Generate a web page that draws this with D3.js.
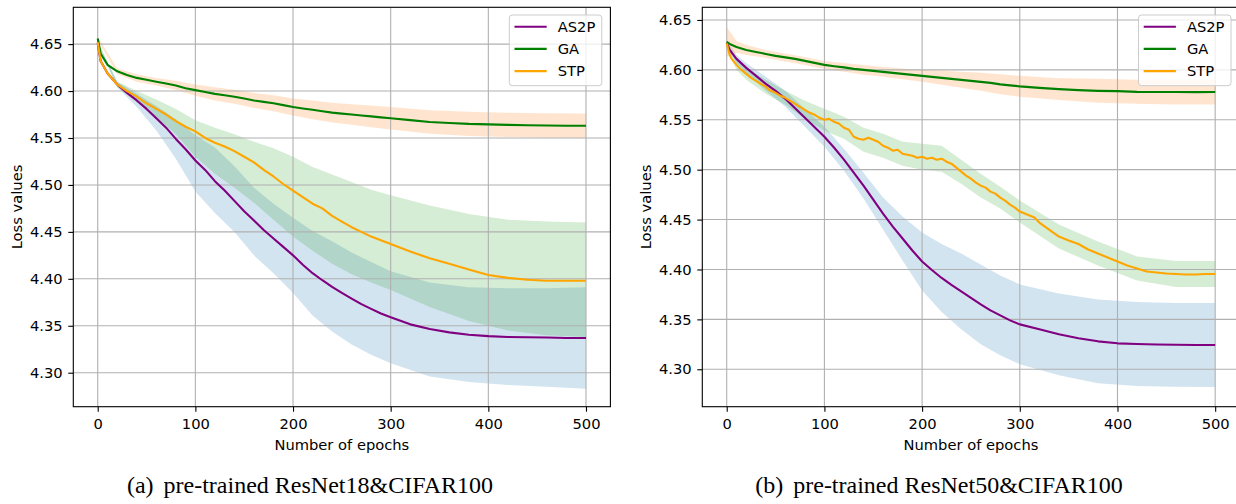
<!DOCTYPE html>
<html>
<head>
<meta charset="utf-8">
<script src="https://cdn.jsdelivr.net/npm/d3@7"></script>
<style>
  body { margin: 0; background: #fff; }
  svg { display: block; }
  text { font-family: "DejaVu Sans", sans-serif; }
  .caption { font-family: "Liberation Serif", "Times New Roman", serif; }
</style>
</head>
<body>
<svg id="fig" width="1236" height="504"></svg>
<script>
// ---------- shared axis ticks ----------
const xTicks = [0, 100, 200, 300, 400, 500];
const yTicks = [4.30, 4.35, 4.40, 4.45, 4.50, 4.55, 4.60, 4.65];
const seriesNames = ["AS2P", "GA", "STP"];

// ---------- (a) pre-trained ResNet18 & CIFAR100 ----------
const epochsA = [0, 3, 10, 20, 30, 40, 50, 60, 70, 80, 90, 100, 110, 120, 130, 140, 150,
  160, 170, 180, 190, 200, 210, 220, 230, 240, 250, 260, 270, 280, 290, 300,
  320, 340, 360, 380, 400, 420, 440, 460, 480, 500];
const as2pA = [4.651, 4.632, 4.619, 4.607, 4.598, 4.590, 4.581, 4.571, 4.561, 4.549, 4.538,
  4.526, 4.516, 4.504, 4.494, 4.483, 4.472, 4.462, 4.452, 4.443, 4.434, 4.425, 4.415,
  4.406, 4.3985, 4.3915, 4.385, 4.379, 4.373, 4.368, 4.363, 4.359, 4.3515, 4.3465, 4.343,
  4.3405, 4.339, 4.338, 4.3378, 4.3375, 4.337, 4.337];
const gaA = [4.656, 4.640, 4.628, 4.621, 4.617, 4.614, 4.612, 4.610, 4.608, 4.606, 4.603,
  4.601, 4.599, 4.597, 4.5955, 4.594, 4.592, 4.590, 4.5885, 4.587, 4.585, 4.583, 4.5815,
  4.580, 4.5785, 4.577, 4.576, 4.575, 4.574, 4.573, 4.572, 4.571, 4.569, 4.567, 4.566,
  4.565, 4.5645, 4.564, 4.5635, 4.5633, 4.563, 4.563];
const stpA = [4.652, 4.632, 4.619, 4.607, 4.600, 4.594, 4.587, 4.581, 4.575, 4.568, 4.562,
  4.557, 4.550, 4.545, 4.541, 4.536, 4.530, 4.524, 4.516, 4.509, 4.501, 4.494, 4.487,
  4.480, 4.475, 4.467, 4.461, 4.455, 4.450, 4.445, 4.441, 4.437, 4.429, 4.422, 4.416,
  4.410, 4.404, 4.401, 4.399, 4.398, 4.398, 4.398];
// lower / upper edges of the shaded run-to-run spread
const bandEpochsA = [0, 20, 40, 60, 80, 100, 120, 140, 160, 180, 200, 220, 240, 260, 280,
  300, 340, 380, 420, 460, 500];
const as2pLowA = [4.650, 4.604, 4.583, 4.558, 4.528, 4.493, 4.470, 4.450, 4.425, 4.406,
  4.385, 4.361, 4.344, 4.330, 4.319, 4.310, 4.296, 4.290, 4.287, 4.285, 4.283];
const as2pHighA = [4.652, 4.610, 4.597, 4.584, 4.570, 4.553, 4.540, 4.520, 4.497, 4.480,
  4.465, 4.451, 4.440, 4.428, 4.418, 4.408, 4.396, 4.391, 4.390, 4.390, 4.391];
const gaLowA = [4.654, 4.618, 4.610, 4.606, 4.601, 4.595, 4.590, 4.5865, 4.582, 4.5785,
  4.574, 4.570, 4.5665, 4.564, 4.5615, 4.559, 4.5545, 4.552, 4.551, 4.5503, 4.550];
const gaHighA = [4.658, 4.624, 4.618, 4.614, 4.611, 4.607, 4.604, 4.6015, 4.598, 4.5955,
  4.592, 4.590, 4.5875, 4.586, 4.5845, 4.583, 4.5795, 4.578, 4.577, 4.5763, 4.576];
const stpLowA = [4.651, 4.604, 4.588, 4.572, 4.554, 4.530, 4.512, 4.497, 4.481, 4.463,
  4.445, 4.430, 4.416, 4.405, 4.396, 4.388, 4.370, 4.355, 4.345, 4.340, 4.338];
const stpHighA = [4.653, 4.610, 4.600, 4.591, 4.581, 4.569, 4.561, 4.554, 4.546, 4.539,
  4.530, 4.519, 4.511, 4.503, 4.495, 4.489, 4.478, 4.469, 4.463, 4.461, 4.460];

// ---------- (b) pre-trained ResNet50 & CIFAR100 ----------
const epochsB = epochsA;
const as2pB = [4.627, 4.620, 4.611, 4.602, 4.594, 4.586, 4.579, 4.571, 4.5615, 4.552, 4.5425,
  4.533, 4.522, 4.510, 4.497, 4.484, 4.470, 4.456, 4.443, 4.431, 4.419, 4.408, 4.3995,
  4.3915, 4.3845, 4.378, 4.3715, 4.365, 4.359, 4.354, 4.349, 4.345, 4.340, 4.335, 4.331,
  4.328, 4.326, 4.3253, 4.3248, 4.3245, 4.3243, 4.3243];
const gaB = [4.628, 4.626, 4.623, 4.620, 4.618, 4.616, 4.614, 4.6125, 4.611, 4.609, 4.607,
  4.605, 4.6037, 4.6025, 4.601, 4.600, 4.599, 4.598, 4.597, 4.596, 4.595, 4.594, 4.593,
  4.592, 4.591, 4.590, 4.589, 4.588, 4.587, 4.5855, 4.5845, 4.5835, 4.582, 4.5807, 4.5797,
  4.579, 4.5787, 4.578, 4.5778, 4.5778, 4.5777, 4.5778];
const stpEpochsB = [0, 3, 5, 10, 15, 20, 25, 30, 35, 40, 45, 50, 55, 60, 65, 70, 75, 80, 85,
  90, 95, 100, 105, 110, 115, 120, 125, 130, 135, 140, 145, 150, 155, 160, 165, 170, 175,
  180, 185, 190, 195, 200, 205, 210, 215, 220, 225, 230, 235, 240, 245, 250, 255, 260, 265,
  270, 275, 280, 285, 290, 295, 300, 305, 310, 315, 320, 330, 340, 350, 360, 370, 380, 390,
  400, 410, 420, 430, 440, 450, 460, 470, 480, 490, 500];
const stpB = [4.6266, 4.615, 4.611, 4.605, 4.600, 4.596, 4.592, 4.589, 4.586, 4.583, 4.579,
  4.577, 4.574, 4.572, 4.569, 4.566, 4.563, 4.560, 4.557, 4.555, 4.552, 4.550, 4.551,
  4.548, 4.546, 4.542, 4.540, 4.533, 4.531, 4.530, 4.532, 4.530, 4.528, 4.524, 4.522,
  4.519, 4.520, 4.516, 4.515, 4.514, 4.512, 4.513, 4.511, 4.512, 4.510, 4.511, 4.508,
  4.506, 4.502, 4.498, 4.494, 4.491, 4.487, 4.484, 4.482, 4.478, 4.476, 4.472, 4.469,
  4.465, 4.462, 4.458, 4.456, 4.454, 4.452, 4.447, 4.440, 4.433, 4.429, 4.4255, 4.420,
  4.416, 4.412, 4.408, 4.404, 4.401, 4.398, 4.397, 4.396, 4.3955, 4.395, 4.395, 4.3955,
  4.3955];
const bandEpochsB = [0, 10, 20, 40, 60, 80, 100, 120, 140, 160, 180, 200, 220, 240, 260, 280,
  300, 340, 380, 420, 460, 500];
const as2pLowB = [4.624, 4.607, 4.597, 4.579, 4.563, 4.543, 4.523, 4.499, 4.471, 4.440,
  4.409, 4.379, 4.3575, 4.340, 4.325, 4.314, 4.305, 4.294, 4.286, 4.2833, 4.2825, 4.2823];
const as2pHighB = [4.630, 4.615, 4.607, 4.593, 4.579, 4.561, 4.543, 4.521, 4.497, 4.472,
  4.453, 4.437, 4.4255, 4.416, 4.405, 4.394, 4.385, 4.376, 4.370, 4.3673, 4.3665, 4.3663];
const gaLowB = [4.613, 4.617, 4.615, 4.612, 4.6085, 4.605, 4.601, 4.598, 4.595, 4.593,
  4.5905, 4.588, 4.585, 4.582, 4.579, 4.5755, 4.573, 4.5697, 4.567, 4.566, 4.5653, 4.5653];
const gaHighB = [4.643, 4.629, 4.625, 4.620, 4.6165, 4.613, 4.609, 4.607, 4.605, 4.603,
  4.6015, 4.600, 4.599, 4.598, 4.597, 4.5955, 4.594, 4.5917, 4.591, 4.590, 4.5903, 4.5903];
const stpLowB = [4.6236, 4.600, 4.590, 4.576, 4.565, 4.551, 4.539, 4.531, 4.518, 4.512,
  4.504, 4.500, 4.498, 4.486, 4.472, 4.461, 4.447, 4.421, 4.404, 4.389, 4.3825, 4.3825];
const stpHighB = [4.6296, 4.610, 4.602, 4.590, 4.579, 4.569, 4.561, 4.553, 4.542, 4.536,
  4.528, 4.526, 4.524, 4.510, 4.496, 4.483, 4.469, 4.445, 4.428, 4.413, 4.4085, 4.4085];

// ---------- styling ----------
const lineColors = { AS2P: "purple", GA: "green", STP: "orange" };
const bandColors = { AS2P: "#1f77b4", GA: "#ff7f0e", STP: "#2ca02c" };

const svg = d3.select("#fig");
svg.append("rect").attr("width", 1236).attr("height", 504).attr("fill", "#fff");
const defs = svg.append("defs");

const TOP = 7.3, BOTTOM = 406.7, FONT = 14.7;

function drawPanel(p) {
  const x = d3.scaleLinear().domain([-25, 525]).range([p.left, p.right]);
  const y = d3.scaleLinear().domain(p.yDomain).range([BOTTOM, TOP]);
  const g = svg.append("g");

  defs.append("clipPath").attr("id", "clip-" + p.id)
    .append("rect").attr("x", p.left).attr("y", TOP)
    .attr("width", p.right - p.left).attr("height", BOTTOM - TOP);
  const plot = g.append("g").attr("clip-path", `url(#clip-${p.id})`);

  // shaded spread bands
  p.series.forEach(s => {
    const pts = p.bandEpochs.map((e, i) => [e, s.low[i], s.high[i]]);
    plot.append("path").datum(pts)
      .attr("d", d3.area().x(d => x(d[0])).y0(d => y(d[1])).y1(d => y(d[2])))
      .attr("fill", bandColors[s.name]).attr("fill-opacity", 0.2);
  });

  // grid
  plot.selectAll(".gx").data(xTicks).join("line")
    .attr("x1", d => x(d)).attr("x2", d => x(d)).attr("y1", TOP).attr("y2", BOTTOM)
    .attr("stroke", "#b0b0b0").attr("stroke-width", 1.1);
  plot.selectAll(".gy").data(yTicks).join("line")
    .attr("y1", d => y(d)).attr("y2", d => y(d)).attr("x1", p.left).attr("x2", p.right)
    .attr("stroke", "#b0b0b0").attr("stroke-width", 1.1);

  // mean curves
  p.series.forEach(s => {
    const pts = s.epochs.map((e, i) => [e, s.values[i]]);
    plot.append("path").datum(pts)
      .attr("d", d3.line().x(d => x(d[0])).y(d => y(d[1])))
      .attr("fill", "none").attr("stroke", lineColors[s.name])
      .attr("stroke-width", 2.1).attr("stroke-linejoin", "round");
  });

  // axes
  const xAxis = g.append("g").attr("transform", `translate(0,${BOTTOM})`)
    .call(d3.axisBottom(x).tickValues(xTicks).tickSize(5).tickPadding(6.9).tickFormat(d3.format("d")));
  const yAxis = g.append("g").attr("transform", `translate(${p.left},0)`)
    .call(d3.axisLeft(y).tickValues(yTicks).tickSize(5).tickPadding(5.6).tickFormat(d3.format(".2f")));
  [xAxis, yAxis].forEach(a => {
    a.select(".domain").remove();
    a.selectAll("line").attr("stroke", "#000").attr("stroke-width", 1.1);
    a.selectAll("text").attr("fill", "#000").style("font-size", FONT + "px")
      .style("font-family", '"DejaVu Sans", sans-serif');
  });

  // spines
  g.append("rect").attr("x", p.left).attr("y", TOP)
    .attr("width", p.right - p.left).attr("height", BOTTOM - TOP)
    .attr("fill", "none").attr("stroke", "#000").attr("stroke-width", 1.1);

  // axis labels
  g.append("text").attr("x", (p.left + p.right) / 2).attr("y", 449.5)
    .attr("text-anchor", "middle").style("font-size", FONT + "px").text("Number of epochs");
  g.append("text").attr("transform", `translate(${p.yLabelX},${(TOP + BOTTOM) / 2}) rotate(-90)`)
    .attr("text-anchor", "middle").style("font-size", FONT + "px").text("Loss values");

  // legend
  const lgRight = p.right - 8.6, lgW = 92.5, lgLeft = lgRight - lgW;
  const lg = g.append("g");
  lg.append("rect").attr("x", lgLeft).attr("y", 15).attr("width", lgW).attr("height", 70.7)
    .attr("rx", 3).attr("fill", "#fff").attr("fill-opacity", 0.8)
    .attr("stroke", "#cccccc").attr("stroke-width", 1);
  seriesNames.forEach((n, i) => {
    const cy = 26.7 + i * 22.2;
    lg.append("line").attr("x1", lgLeft + 5.2).attr("x2", lgLeft + 37.4)
      .attr("y1", cy).attr("y2", cy).attr("stroke", lineColors[n]).attr("stroke-width", 2.1);
    lg.append("text").attr("x", lgLeft + 48.4).attr("y", cy).attr("dy", "0.36em")
      .style("font-size", FONT + "px").text(n);
  });

  // sub-figure caption
  const cap = g.append("text").attr("class", "caption").attr("x", p.captionX).attr("y", 493)
    .attr("text-anchor", "middle").style("font-size", "24px").attr("fill", "#000");
  cap.append("tspan").text(p.tag);
  cap.append("tspan").attr("dx", 4).text(" " + p.caption);
}

drawPanel({
  id: "a", left: 73.3, right: 610.4, yDomain: [4.2638, 4.6892], yLabelX: 21.5,
  captionX: 310, tag: "(a)", caption: "pre-trained ResNet18&CIFAR100",
  bandEpochs: bandEpochsA,
  series: [
    { name: "AS2P", epochs: epochsA, values: as2pA, low: as2pLowA, high: as2pHighA },
    { name: "GA", epochs: epochsA, values: gaA, low: gaLowA, high: gaHighA },
    { name: "STP", epochs: epochsA, values: stpA, low: stpLowA, high: stpHighA }
  ]
});

drawPanel({
  id: "b", left: 702.3, right: 1239.6, yDomain: [4.2625, 4.6627], yLabelX: 650.5,
  captionX: 939, tag: "(b)", caption: "pre-trained ResNet50&CIFAR100",
  bandEpochs: bandEpochsB,
  series: [
    { name: "AS2P", epochs: epochsB, values: as2pB, low: as2pLowB, high: as2pHighB },
    { name: "GA", epochs: epochsB, values: gaB, low: gaLowB, high: gaHighB },
    { name: "STP", epochs: stpEpochsB, values: stpB, low: stpLowB, high: stpHighB }
  ]
});
</script>
</body>
</html>
